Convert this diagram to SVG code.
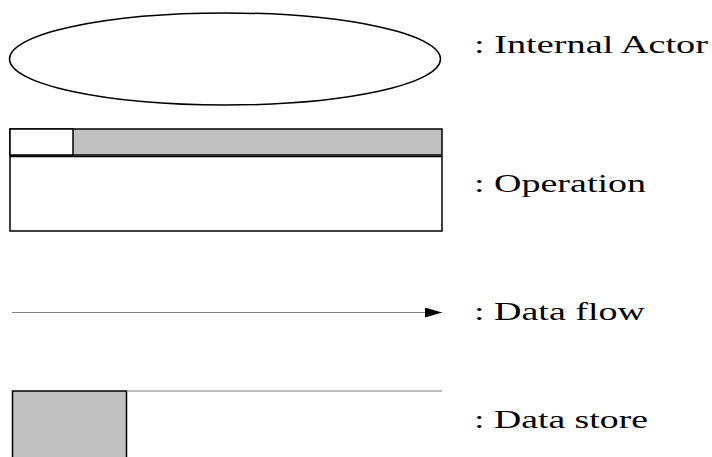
<svg xmlns="http://www.w3.org/2000/svg" width="712" height="457" viewBox="0 0 712 457">
<style>
.lbl{font-family:"Liberation Serif","Times New Roman",serif;font-size:25px;fill:#000}
.blk{stroke:#000;stroke-width:1.5}
.ln{stroke:#7f7f7f;stroke-width:1.2;fill:none}
</style>
<defs>
<marker id="ah" markerWidth="18" markerHeight="10" refX="17" refY="5" orient="auto" markerUnits="userSpaceOnUse">
<path d="M0,0 L17,5 L0,10 Z" fill="#000"/>
</marker>
</defs>
<rect width="712" height="457" fill="#fff"/>
<g id="actor">
<ellipse class="blk" cx="225" cy="59" rx="215.5" ry="46" fill="#fff"/>
</g>
<g id="operation">
<rect class="blk" x="10" y="129" width="432" height="26" fill="#c0c0c0"/>
<rect class="blk" x="10" y="129" width="63" height="26" fill="#fff"/>
<rect class="blk" x="10" y="156.5" width="432" height="74.5" fill="#fff"/>
</g>
<g id="datastore">
<rect class="blk" x="12.5" y="391" width="114" height="70" fill="#c0c0c0"/>
<line class="ln" x1="126.5" y1="391" x2="442" y2="391"/>
</g>
<g id="connectors">
<line class="ln" x1="12" y1="312.5" x2="442" y2="312.5" marker-end="url(#ah)"/>
</g>
<g id="labels" transform="scale(1.5,1)">
<text class="lbl" x="316" y="53" textLength="156" lengthAdjust="spacingAndGlyphs">: Internal Actor</text>
<text class="lbl" x="316" y="192.5" textLength="114.7" lengthAdjust="spacingAndGlyphs">: Operation</text>
<text class="lbl" x="316" y="320.5" textLength="114" lengthAdjust="spacingAndGlyphs">: Data flow</text>
<text class="lbl" x="316" y="428.5" textLength="116" lengthAdjust="spacingAndGlyphs">: Data store</text>
</g>
</svg>
